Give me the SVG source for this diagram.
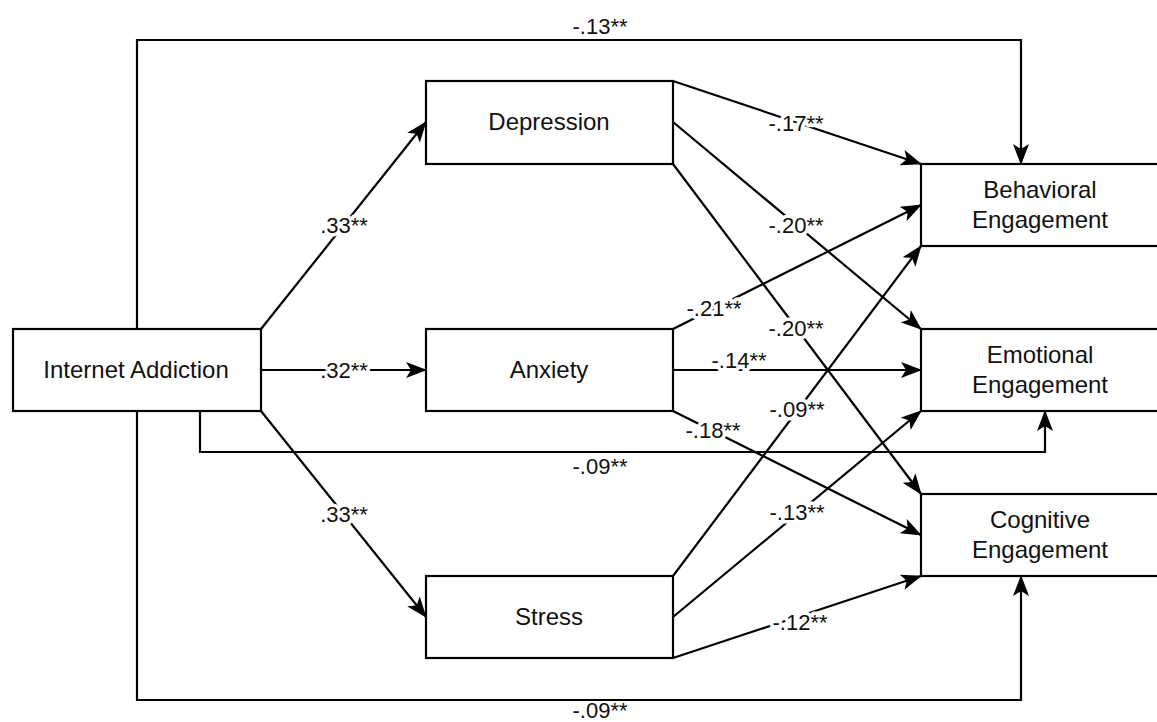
<svg xmlns="http://www.w3.org/2000/svg" width="1157" height="722" viewBox="0 0 1157 722">
<defs>
<marker id="ah" markerUnits="userSpaceOnUse" markerWidth="22" markerHeight="16" refX="20" refY="8" orient="auto">
<path d="M0,0 L21,8 L0,16 L5,8 z" fill="#000"/>
</marker>
</defs>
<style>
.box{fill:#fff;stroke:#000;stroke-width:2.2}
.nt{font-family:"Liberation Sans",Arial,sans-serif;font-size:24px;text-anchor:middle;fill:#111}
.ln{fill:none;stroke:#000;stroke-width:2.2;marker-end:url(#ah)}
.lb{font-family:"Liberation Sans",Arial,sans-serif;font-size:22px;text-anchor:middle;fill:#111;stroke:#fff;stroke-width:7;paint-order:stroke;stroke-linejoin:round}
.lb2{font-family:"Liberation Sans",Arial,sans-serif;font-size:22px;text-anchor:middle;fill:#111}
</style>
<rect width="1157" height="722" fill="#fff"/>
<g id="connectors">
<path class="ln" d="M137,329 V40 H1021 V164"/>
<path class="ln" d="M137,411 V700 H1021 V576"/>
<path class="ln" d="M200,411 V452 H1045 V411"/>
<path class="ln" d="M261,329 L426,122"/>
<path class="ln" d="M261,370 L426,370"/>
<path class="ln" d="M261,411 L426,617"/>
<path class="ln" d="M673,81 L921,164"/>
<path class="ln" d="M673,122 L921,329"/>
<path class="ln" d="M673,164 L921,494"/>
<path class="ln" d="M673,329 L921,205"/>
<path class="ln" d="M673,370 L921,370"/>
<path class="ln" d="M673,411 L921,535"/>
<path class="ln" d="M673,576 L921,246"/>
<path class="ln" d="M673,617 L921,411"/>
<path class="ln" d="M673,658 L921,576"/>
</g>
<g id="labels">
<text class="lb" x="600" y="34">-.13**</text>
<text class="lb2" x="600" y="718">-.09**</text>
<text class="lb" x="600" y="474">-.09**</text>
<text class="lb" x="344" y="233">.33**</text>
<text class="lb" x="344" y="378">.32**</text>
<text class="lb" x="344" y="522">.33**</text>
<text class="lb" x="796" y="131">-.17**</text>
<text class="lb" x="796" y="233">-.20**</text>
<text class="lb" x="714" y="316">-.21**</text>
<text class="lb" x="796" y="336">-.20**</text>
<text class="lb" x="739" y="368">-.14**</text>
<text class="lb" x="797" y="417">-.09**</text>
<text class="lb" x="713" y="438">-.18**</text>
<text class="lb" x="797" y="520">-.13**</text>
<text class="lb" x="800" y="630">-.12**</text>
</g>
<g id="internet-addiction">
<rect class="box" x="13" y="329" width="248" height="82"/>
<text class="nt" x="136" y="378">Internet Addiction</text>
</g>
<g id="depression">
<rect class="box" x="426" y="81" width="247" height="83"/>
<text class="nt" x="549" y="130">Depression</text>
</g>
<g id="anxiety">
<rect class="box" x="426" y="329" width="247" height="82"/>
<text class="nt" x="549" y="378">Anxiety</text>
</g>
<g id="stress">
<rect class="box" x="426" y="576" width="247" height="82"/>
<text class="nt" x="549" y="625">Stress</text>
</g>
<g id="behavioral-engagement">
<rect class="box" x="921" y="164" width="240" height="82"/>
<text class="nt" x="1040" y="198">Behavioral</text>
<text class="nt" x="1040" y="228">Engagement</text>
</g>
<g id="emotional-engagement">
<rect class="box" x="921" y="329" width="240" height="82"/>
<text class="nt" x="1040" y="363">Emotional</text>
<text class="nt" x="1040" y="393">Engagement</text>
</g>
<g id="cognitive-engagement">
<rect class="box" x="921" y="494" width="240" height="82"/>
<text class="nt" x="1040" y="528">Cognitive</text>
<text class="nt" x="1040" y="558">Engagement</text>
</g>
</svg>
